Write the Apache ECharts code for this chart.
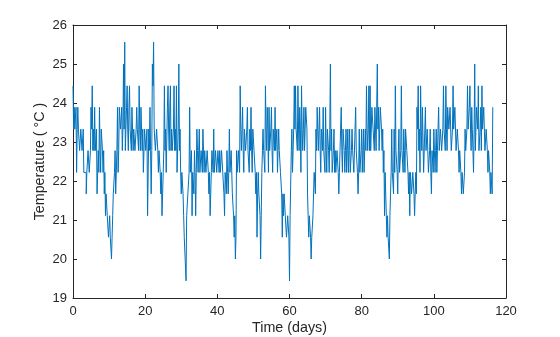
<!DOCTYPE html>
<html>
<head>
<meta charset="utf-8">
<script src="https://cdn.jsdelivr.net/npm/echarts@6/dist/echarts.min.js"></script>
<style>
  html, body { margin: 0; padding: 0; background: #ffffff; }
  #chart { width: 560px; height: 337px; }
</style>
</head>
<body>
<div id="chart"></div>
<script>
// Room temperature log, one reading every 4 hours, in degrees Celsius
const SAMPLE_INTERVAL_HOURS = 4;

const temperatureC = [
  // days 0 - 20
  24.44,23.33,23.89,23.33,23.33,23.89,22.22,23.33,23.89,23.33,
  23.33,22.78,22.78,23.33,23.33,22.78,22.78,23.33,22.22,22.22,
  22.22,22.22,21.67,22.22,22.22,22.78,22.78,22.22,22.22,22.78,
  23.89,23.33,24.44,22.78,23.33,22.78,23.89,22.78,22.78,23.33,
  21.67,22.22,22.78,22.22,23.89,22.78,22.22,23.33,23.33,22.78,
  22.22,22.78,21.67,22.22,21.11,21.67,21.67,21.11,21.11,20.56,
  20.56,21.11,20.56,20.56,20,20.56,21.11,21.67,21.67,22.22,
  22.78,21.67,21.67,22.78,23.89,22.22,22.78,23.89,23.89,23.33,
  23.33,23.89,22.78,23.33,25,23.33,25.56,22.78,23.33,23.89,
  24.44,23.33,22.78,23.89,24.44,23.33,23.33,22.78,23.89,23.33,
  22.78,23.33,23.33,22.78,22.78,23.33,23.89,23.33,23.33,22.78,
  24.44,23.33,22.78,23.89,23.89,22.78,23.33,22.22,22.22,23.33,
  // days 20 - 40
  23.33,22.78,22.78,23.33,21.11,22.22,23.33,22.78,23.89,22.78,
  21.67,22.78,25,24.44,25.56,23.33,23.33,22.78,22.78,23.33,
  23.33,22.78,22.22,22.78,22.78,22.22,21.67,22.22,21.11,21.67,
  22.22,22.78,24.44,22.78,23.33,22.22,22.22,23.89,24.44,23.33,
  22.78,23.89,24.44,22.78,23.33,22.78,22.78,23.33,24.44,22.78,
  23.33,22.78,24.44,22.22,22.22,23.33,25,22.78,23.33,22.22,
  21.67,22.22,22.22,21.67,21.11,20.56,20.56,20.56,19.44,21.11,
  21.11,21.67,21.67,22.22,23.89,22.22,22.22,22.78,21.11,22.22,
  22.22,21.67,22.78,22.22,21.11,22.22,23.33,22.78,22.22,22.78,
  23.33,22.22,22.22,22.78,22.78,22.22,23.33,22.78,22.22,22.78,
  22.78,22.22,22.22,22.78,22.78,22.22,21.67,22.22,21.11,21.67,
  22.22,22.78,22.78,22.22,23.33,22.22,22.22,22.78,22.78,22.22,
  22.22,22.78,22.78,22.22,
  // days 40 - 61
  22.78,22.22,22.22,22.78,22.78,22.22,22.22,21.67,21.11,22.22,
  22.22,21.67,22.78,22.22,21.67,22.22,23.33,22.22,22.22,22.78,
  22.78,21.67,21.67,21.11,20.56,21.11,20,20.56,22.78,22.22,
  22.22,22.78,22.78,22.22,24.44,23.33,22.78,23.33,23.89,22.78,
  22.22,23.33,23.33,22.78,22.78,23.33,23.89,22.78,22.78,22.22,
  23.33,22.78,23.89,22.78,22.22,23.33,23.33,22.78,22.78,22.22,
  21.67,22.22,20.56,21.67,22.22,21.67,21.67,21.11,20,21.11,
  22.22,22.78,23.33,22.78,22.78,22.22,24.44,23.33,22.78,23.89,
  23.33,22.22,23.89,22.78,22.78,23.33,23.89,22.78,22.22,23.33,
  23.33,22.78,23.89,22.78,22.78,23.33,22.22,22.78,23.33,22.78,
  22.78,22.22,22.22,21.67,20.56,21.67,21.11,21.67,21.67,21.11,
  21.11,20.56,20.56,21.11,21.11,20.56,19.44,21.11,21.11,22.78,
  23.33,22.22,22.78,23.33,24.44,23.33,
  // days 61 - 82
  24.44,23.33,23.33,22.78,24.44,23.33,22.78,23.89,23.33,22.22,
  24.44,23.33,22.78,23.33,23.89,22.78,23.33,23.89,23.89,23.33,
  21.67,21.11,20.56,21.11,21.11,20.56,20,20.56,20.56,21.11,
  21.67,22.22,22.22,21.67,23.33,22.78,23.89,23.33,22.78,23.33,
  23.89,22.78,22.22,23.33,23.33,22.78,23.89,22.78,22.78,22.22,
  23.89,22.78,22.22,23.33,23.33,22.78,22.22,23.33,25,22.78,
  23.33,22.22,22.22,22.78,23.33,22.22,22.78,22.22,22.22,22.78,
  22.78,22.22,21.67,22.22,22.78,23.33,23.89,22.78,22.22,23.33,
  23.33,22.78,22.22,22.78,23.33,22.22,22.78,23.33,22.22,22.78,
  23.33,22.22,22.22,22.78,23.33,22.78,22.78,22.22,22.22,23.33,
  23.89,22.78,22.78,22.22,21.67,22.22,23.33,22.22,22.22,22.78,
  23.33,22.22,22.78,23.33,22.22,22.78,23.33,22.78,24.44,23.33,
  22.78,23.33,24.44,22.78,
  // days 82 - 103
  24.44,22.78,22.78,23.89,23.89,23.33,23.33,22.78,23.89,23.33,
  22.78,23.89,25,23.33,23.89,22.78,23.33,23.89,23.89,23.33,
  22.78,23.33,22.22,22.78,21.11,22.22,21.67,21.11,20.56,21.11,
  20.56,20.56,20,21.11,21.67,22.22,23.33,22.22,22.22,21.67,
  23.33,22.22,24.44,22.78,22.78,22.22,21.67,22.78,23.33,22.22,
  22.22,22.78,24.44,22.78,22.78,22.22,23.33,22.78,22.22,23.33,
  23.33,22.78,22.78,22.22,21.67,22.22,21.11,22.22,22.22,21.67,
  21.67,22.22,22.22,21.67,21.11,21.67,22.22,21.67,23.89,23.33,
  24.44,22.78,23.33,22.22,24.44,23.33,22.78,23.89,23.89,22.22,
  22.22,23.33,23.89,22.78,22.78,23.33,23.33,22.22,22.22,22.78,
  23.33,22.22,21.67,22.78,22.78,22.22,23.33,22.78,22.22,22.78,
  23.33,22.22,22.78,23.33,23.89,22.78,22.78,23.33,23.33,22.78,
  22.78,23.33,24.44,23.33,
  // days 103 - 116
  23.33,22.78,24.44,23.33,22.78,23.89,23.89,23.33,23.33,23.89,
  23.89,22.78,22.78,23.33,24.44,23.33,23.33,23.89,23.89,22.78,
  22.78,23.33,23.33,22.78,22.22,22.78,22.78,22.22,21.67,22.22,
  22.22,21.67,21.67,22.22,23.33,22.78,22.78,23.33,24.44,23.33,
  23.33,23.89,24.44,23.33,22.78,23.89,23.33,22.78,22.22,23.33,
  25,22.78,22.78,23.89,23.89,23.33,24.44,22.78,22.78,23.33,
  23.89,22.78,24.44,23.33,23.33,23.89,23.89,22.78,22.78,23.33,
  23.33,22.78,22.22,22.78,22.78,22.22,21.67,22.22,22.22,21.67,
  23.89
];

const xTicks = [0, 20, 40, 60, 80, 100, 120];
const yTicks = [19, 20, 21, 22, 23, 24, 25, 26];

// pair each reading with its elapsed time in days
const series = temperatureC.map((t, i) => [i * SAMPLE_INTERVAL_HOURS / 24, t]);

const ink = '#262626';
const fontFamily = '"Liberation Sans", Arial, Helvetica, sans-serif';

function frameAxis(isX, position, showLabels, name) {
  const ticks = isX ? xTicks : yTicks;
  return {
    type: 'value',
    position: position,
    min: ticks[0],
    max: ticks[ticks.length - 1],
    interval: ticks[1] - ticks[0],
    name: name || '',
    nameLocation: 'middle',
    nameGap: isX ? 23 : 26,
    nameMoveOverlap: false,
    nameTextStyle: { color: ink, fontSize: 14.3, fontFamily: fontFamily },
    axisLine: { show: true, onZero: false, lineStyle: { color: ink, width: 1 } },
    axisTick: { show: true, inside: true, length: 4, lineStyle: { color: ink, width: 1 } },
    axisLabel: {
      show: showLabels, color: ink, fontSize: 13, fontFamily: fontFamily,
      margin: isX ? 7 : 6, hideOverlap: false
    },
    splitLine: { show: false }
  };
}

const chart = echarts.init(document.getElementById('chart'), null, { renderer: 'canvas' });
chart.setOption({
  animation: false,
  backgroundColor: '#ffffff',
  grid: { left: 73, right: 54, top: 25, bottom: 39, containLabel: false, outerBoundsMode: 'none' },
  xAxis: [
    frameAxis(true, 'bottom', true, 'Time (days)'),
    frameAxis(true, 'top', false)
  ],
  yAxis: [
    frameAxis(false, 'left', true, 'Temperature ( °C )'),
    frameAxis(false, 'right', false)
  ],
  series: [{
    type: 'line',
    data: series,
    xAxisIndex: 0,
    yAxisIndex: 0,
    step: 'end',
    showSymbol: false,
    sampling: null,
    lineStyle: { color: '#0072BD', width: 1 },
    itemStyle: { color: '#0072BD' }
  }]
});
</script>
</body>
</html>
